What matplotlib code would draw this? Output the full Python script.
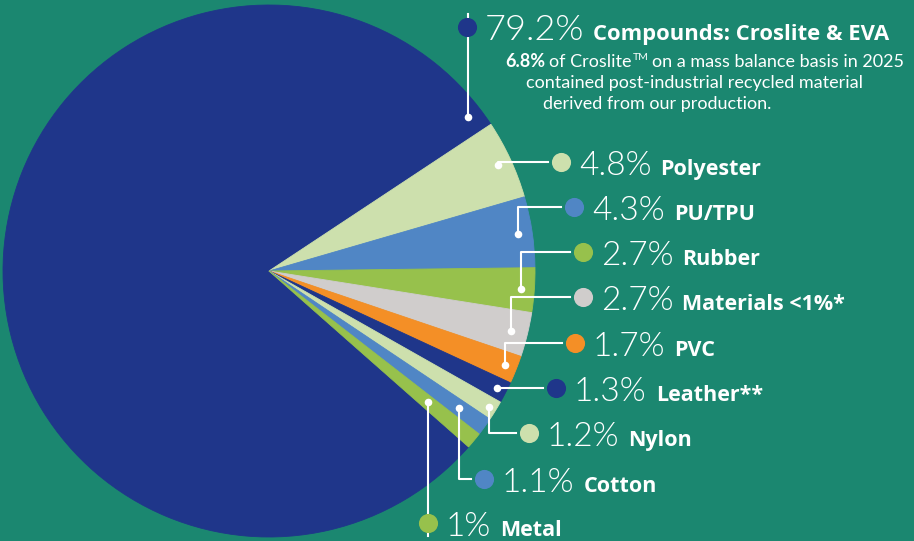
import matplotlib
matplotlib.use("Agg")
import matplotlib.pyplot as plt
import numpy as np

# data
names = ["Compounds: Croslite & EVA", "Polyester", "PU/TPU", "Rubber", "Materials <1%*",
         "PVC", "Leather**", "Nylon", "Cotton", "Metal"]
shares = [79.2, 4.8, 4.3, 2.7, 2.7, 1.7, 1.3, 1.2, 1.1, 1.0]
pct_labels = ["79.2%", "4.8%", "4.3%", "2.7%", "2.7%", "1.7%", "1.3%", "1.2%", "1.1%", "1%"]
note_lines = ["of Croslite", "contained post-industrial recycled material", "derived from our production."]

BG = "#1b8770"
colors = ["#1f368a", "#cde0ad", "#5086c5", "#97c14c", "#d0cdcc",
          "#f48f26", "#1f368a", "#cde0ad", "#5086c5", "#97c14c"]

# layout (pixel coords, y measured from top)
W, H = 914, 541
cx, cy, R = 269, 271, 266
start = 318.6
# where the white dot sits inside each wedge: fraction of wedge span, fraction of radius
dot_frac = [0.985, 0.5, 0.5, 0.5, 0.5, 0.5, 0.5, 0.5, 0.5, 0.5]
dot_rad = [0.947, 0.95, 0.947, 0.95, 0.936, 0.955, 0.962, 0.97, 0.88, 0.775]
# coloured label dot position
lab_x = [467, 561, 574, 583, 583, 575, 556, 529, 484, 428]
lab_y = [27, 162, 207, 252, 297, 343, 388, 433, 479, 523]

fig = plt.figure(figsize=(W / 100, H / 100), dpi=100)
fig.patch.set_facecolor(BG)
ax = fig.add_axes([0, 0, 1, 1])
ax.set_facecolor(BG)

wedges, _ = ax.pie(shares, colors=colors, startangle=start, counterclock=False,
                   center=(cx, H - cy), radius=R, wedgeprops=dict(linewidth=0.6))
for w in wedges:
    w.set_edgecolor(w.get_facecolor())

ax.set_xlim(0, W)
ax.set_ylim(0, H)
ax.set_aspect("equal")
ax.axis("off")

fig.canvas.draw()
rend = fig.canvas.get_renderer()


def right_edge(t):
    bb = t.get_window_extent(renderer=rend)
    return ax.transData.inverted().transform((bb.x1, bb.y0))[0]


cum = 0.0
for i in range(len(shares)):
    span = shares[i] * 3.6
    th = np.radians(start - cum - dot_frac[i] * span)
    cum += shares[i] * 3.6
    wx = cx + dot_rad[i] * R * np.cos(th)
    wy = H - cy + dot_rad[i] * R * np.sin(th)
    ly = H - lab_y[i]
    lx = lab_x[i]
    if abs(lx - wx) < 4:
        ax.plot([wx, wx], [wy, ly - 13 if ly < wy else ly + 13], color="white", lw=1.5, zorder=3)
    else:
        ax.plot([wx, wx, lx - 13], [wy, ly, ly], color="white", lw=1.5, zorder=3)
    ax.scatter([wx], [wy], s=30, color="white", zorder=4, linewidths=0)
    ax.scatter([lx], [ly], s=190, color=colors[i], zorder=4, linewidths=0)
    fs = 26 if i == 0 else 24
    t = ax.text(lx + 18, ly - 13, pct_labels[i], color="white", fontsize=fs,
                family="Lato", fontweight=300, va="baseline", ha="left")
    x2 = right_edge(t)
    ax.text(x2 + 9, ly - 13, names[i], color="white", fontsize=15.5 if i else 15.8,
            family="Open Sans", fontweight="bold", va="baseline", ha="left")

# note under the compounds label
t = ax.text(505, H - 67, "6.8%", color="white", fontsize=13, family="Lato",
            fontweight="bold", va="baseline")
x2 = right_edge(t)
t = ax.text(x2 + 4, H - 67, note_lines[0], color="white", fontsize=13, family="Lato", va="baseline")
x2 = right_edge(t)
t = ax.text(x2 + 1, H - 60, "TM", color="white", fontsize=7.5, family="Lato", va="baseline")
x2 = right_edge(t)
ax.text(x2 + 4, H - 67, "on a mass balance basis in 2025", color="white", fontsize=13,
        family="Lato", va="baseline")
ax.text(526, H - 88, note_lines[1], color="white", fontsize=13, family="Lato", va="baseline")
ax.text(543, H - 109, note_lines[2], color="white", fontsize=13, family="Lato", va="baseline")

fig.savefig("out.png", dpi=100, facecolor=BG)
